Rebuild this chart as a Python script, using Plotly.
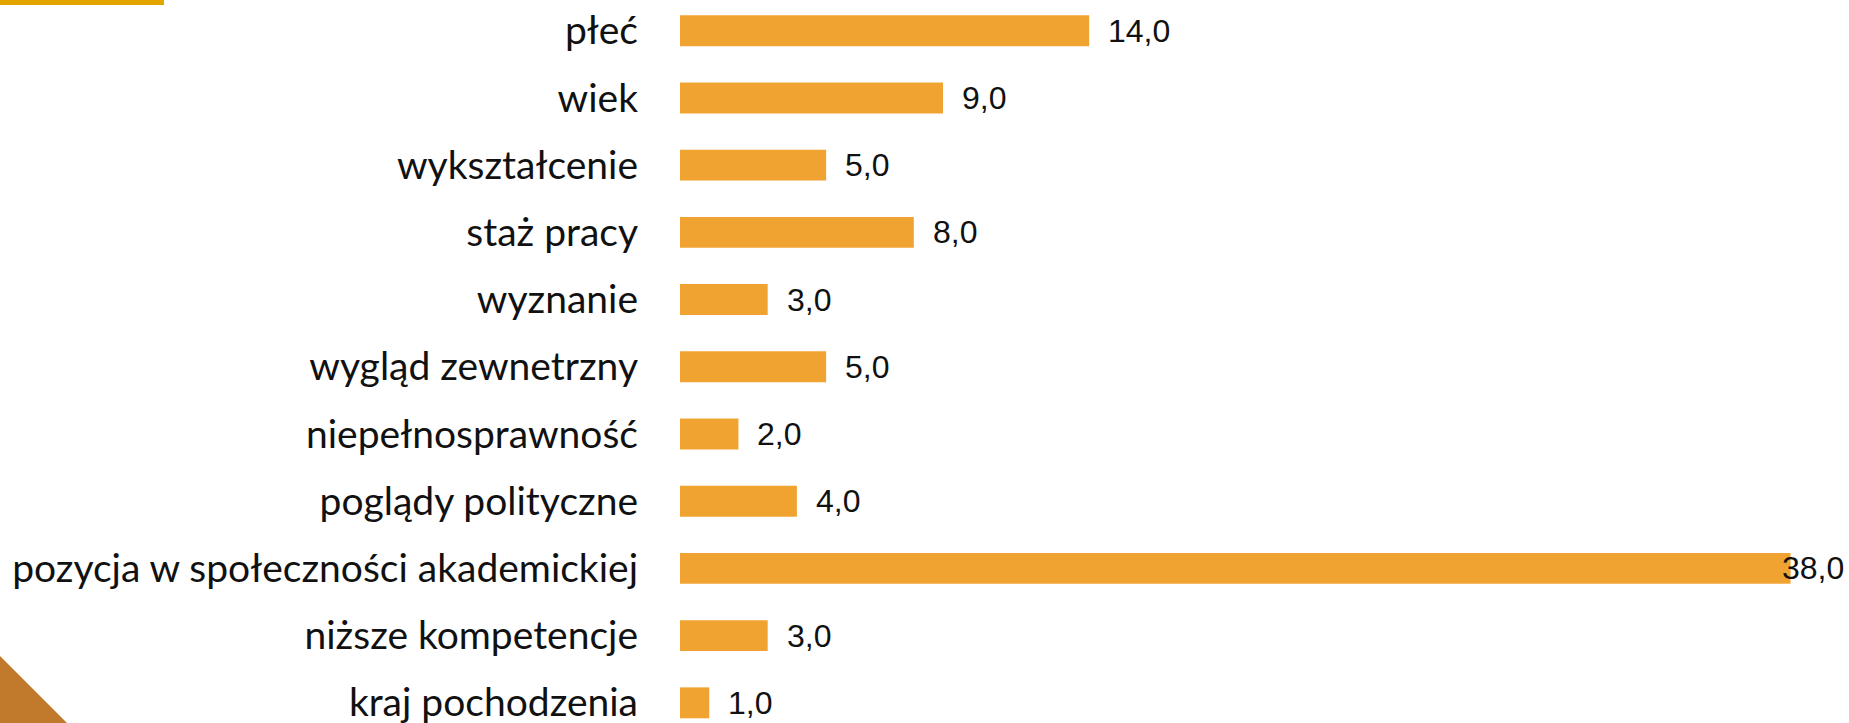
import plotly.graph_objects as go

categories = ["płeć", "wiek", "wykształcenie", "staż pracy", "wyznanie",
              "wygląd zewnetrzny", "niepełnosprawność", "poglądy polityczne",
              "pozycja w społeczności akademickiej", "niższe kompetencje",
              "kraj pochodzenia"]
values = [14.0, 9.0, 5.0, 8.0, 3.0, 5.0, 2.0, 4.0, 38.0, 3.0, 1.0]
value_labels = [f"{v:.1f}".replace(".", ",") for v in values]

W, H = 1849, 723
L = 680
pw = W - L

def px(x):
    return (x - L) / pw

def py(y):
    return 1 - y / H

fig = go.Figure()
fig.add_trace(go.Bar(
    x=values, y=categories, orientation="h",
    marker=dict(color="#F0A330", line=dict(width=0)),
    width=0.46, hoverinfo="skip"
))

vmax = max(values)
for c, v, t in zip(categories, values, value_labels):
    fig.add_annotation(x=v, y=c, text=t, showarrow=False, xanchor="left",
                       xshift=(-11 if v == vmax else 17),
                       font=dict(family="Liberation Sans", size=32, color="#111111"))

fig.add_shape(type="rect", xref="paper", yref="paper",
              x0=px(0), x1=px(164), y0=py(5), y1=py(0),
              fillcolor="#E3A400", line=dict(width=0), layer="above")
fig.add_shape(type="path", xref="paper", yref="paper",
              path=f"M {px(0)},{py(656)} L {px(67)},{py(723)} L {px(0)},{py(723)} Z",
              fillcolor="#C17A2C", line=dict(width=0), layer="above")

fig.update_layout(
    width=W, height=H,
    margin=dict(l=L, r=0, t=0, b=0, autoexpand=False),
    paper_bgcolor="white", plot_bgcolor="white",
    showlegend=False,
    xaxis=dict(range=[0, 40], visible=False, automargin=False),
    yaxis=dict(range=[10.3, -0.457], showgrid=False, zeroline=False,
               showline=False, ticks="", ticklabelstandoff=41, automargin=False,
               tickfont=dict(family="Lato", size=39, color="#111111")),
)

# the page body has an 8px default margin; drop it so the chart fills the window
fig.write_html("out.html", config={"displayModeBar": False},
               post_script="document.body.style.margin='0';")
